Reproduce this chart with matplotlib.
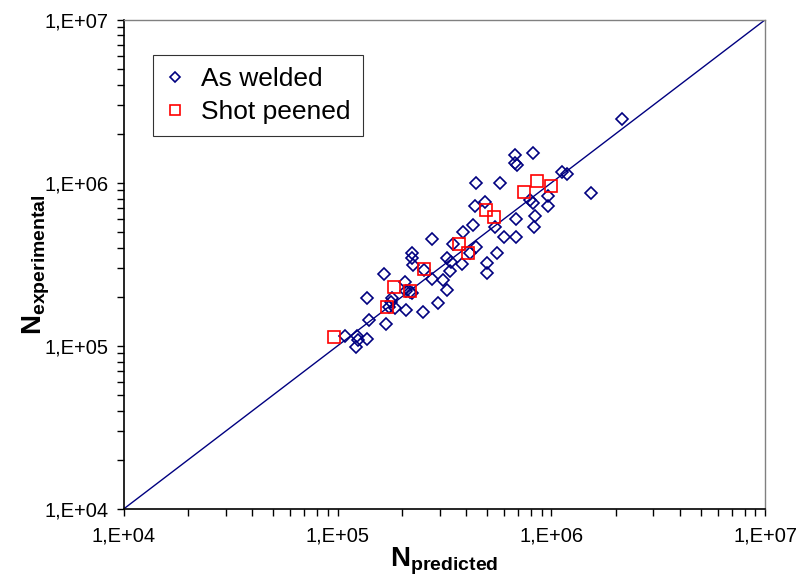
import matplotlib
matplotlib.use("Agg")
import matplotlib.pyplot as plt
from matplotlib.ticker import FuncFormatter, LogLocator
import numpy as np

# as welded specimens (predicted, experimental)
welded_pred = [1.08e5, 1.23e5, 1.25e5, 1.38e5, 1.22e5, 1.41e5, 1.68e5, 1.37e5,
               1.77e5, 1.79e5, 1.74e5, 1.65e5, 2.09e5, 2.52e5, 1.85e5, 2.18e5,
               2.22e5, 2.09e5, 2.07e5, 2.26e5, 2.75e5, 2.24e5, 2.22e5, 2.54e5,
               2.75e5, 2.96e5, 3.24e5, 3.12e5, 3.36e5, 3.24e5, 3.41e5, 3.85e5,
               4.29e5, 4.16e5, 4.44e5, 4.98e5, 5.01e5, 3.80e5, 5.55e5, 6.76e5,
               8.17e5, 6.76e5, 6.89e5, 4.43e5, 5.74e5, 7.94e5, 8.22e5, 9.62e5,
               9.62e5, 1.12e6, 1.18e6, 4.39e5, 4.89e5, 6.82e5, 5.45e5, 8.38e5,
               6.81e5, 8.30e5, 6.00e5, 2.13e6, 1.53e6, 3.47e5]
welded_exp = [1.15e5, 1.15e5, 1.09e5, 1.10e5, 0.98e5, 1.45e5, 1.36e5, 1.96e5,
              1.87e5, 1.96e5, 1.74e5, 2.77e5, 1.66e5, 1.62e5, 1.70e5, 2.15e5,
              2.10e5, 2.17e5, 2.48e5, 3.14e5, 4.53e5, 3.71e5, 3.45e5, 2.93e5,
              2.57e5, 1.83e5, 2.21e5, 2.54e5, 2.86e5, 3.45e5, 3.29e5, 5.00e5,
              5.52e5, 3.71e5, 4.06e5, 3.21e5, 2.79e5, 3.18e5, 3.71e5, 1.49e6,
              1.52e6, 1.33e6, 1.29e6, 9.96e5, 1.00e6, 7.87e5, 7.50e5, 8.24e5,
              7.16e5, 1.16e6, 1.13e6, 7.16e5, 7.67e5, 6.01e5, 5.37e5, 6.28e5,
              4.67e5, 5.35e5, 4.67e5, 2.47e6, 8.65e5, 4.23e5]

# shot peened specimens
peened_pred = [9.62e4, 1.71e5, 1.83e5, 2.18e5, 2.54e5, 3.71e5, 4.08e5, 4.94e5,
               5.41e5, 7.47e5, 8.59e5, 1.00e6]
peened_exp = [1.14e5, 1.74e5, 2.29e5, 2.16e5, 2.96e5, 4.23e5, 3.71e5, 6.81e5,
              6.17e5, 8.77e5, 1.02e6, 9.60e5]

limits = [1e4, 1e7]

plt.rcParams['font.family'] = ['Liberation Sans', 'DejaVu Sans']
plt.rcParams['mathtext.fontset'] = 'custom'
plt.rcParams['mathtext.rm'] = 'Liberation Sans'
plt.rcParams['mathtext.bf'] = 'Liberation Sans:bold'

fig = plt.figure(figsize=(7.98, 5.79), dpi=100)
ax = fig.add_axes([0.155, 0.121, 0.804, 0.845])

ax.plot(limits, limits, color='#000080', lw=1.0, zorder=1)
ax.plot(welded_pred, welded_exp, linestyle='none', marker='D', ms=6.4,
        mfc='none', mec='#000080', mew=1.2, label='As welded', zorder=2)
ax.plot(peened_pred, peened_exp, linestyle='none', marker='s', ms=8.8,
        mfc='none', mec='#FF0000', mew=1.2, label='Shot peened', zorder=3)

ax.set_xscale('log')
ax.set_yscale('log')
ax.set_xlim(limits)
ax.set_ylim(limits)

fmt = FuncFormatter(lambda v, _: "1,E+%02d" % int(round(np.log10(v))))
for axis in (ax.xaxis, ax.yaxis):
    axis.set_major_locator(LogLocator(base=10, numticks=10))
    axis.set_minor_locator(LogLocator(base=10, subs=np.arange(2, 10), numticks=10))
    axis.set_major_formatter(fmt)
    axis.set_minor_formatter(plt.NullFormatter())

ax.tick_params(which='both', direction='out', length=5, width=1, labelsize=14.5,
               top=False, right=False)
ax.tick_params(axis='x', pad=8)
ax.tick_params(axis='y', pad=6)

for side in ('left', 'bottom'):
    ax.spines[side].set_color('black')
    ax.spines[side].set_linewidth(1.2)
for side in ('top', 'right'):
    ax.spines[side].set_color('#808080')
    ax.spines[side].set_linewidth(1.0)

ax.set_xlabel(r'$\mathbf{N_{predicted}}$', fontsize=20, labelpad=0)
ax.set_ylabel(r'$\mathbf{N_{experimental}}$', fontsize=20)
ax.yaxis.set_label_coords(-0.112, 0.5)

leg = ax.legend(loc='upper left', bbox_to_anchor=(0.045, 0.928), borderaxespad=0,
                fontsize=19, frameon=True, fancybox=False, edgecolor='black',
                handlelength=0.8, handletextpad=0.6, borderpad=0.45,
                labelspacing=0.35, markerscale=0.85)
leg.get_frame().set_linewidth(0.8)

fig.savefig('out.png', dpi=100)
